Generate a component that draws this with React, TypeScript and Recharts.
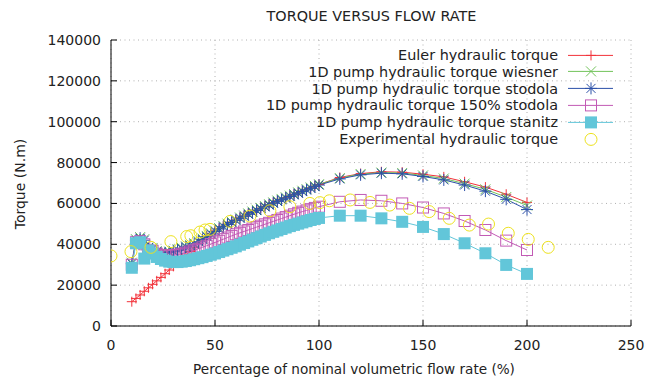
import React from 'react';
import { LineChart, Line, XAxis, YAxis, CartesianGrid, Legend } from 'recharts';

// ---------- data ----------
const flowRate = [
  10, 12, 14, 16, 18, 20, 22, 24, 26, 28, 30, 32, 34, 36, 38, 40, 42, 44, 46, 48,
  50, 52, 54, 56, 58, 60, 62, 64, 66, 68, 70, 72, 74, 76, 78, 80, 82, 84, 86, 88,
  90, 92, 94, 96, 98, 100, 110, 120, 130, 140, 150, 160, 170, 180, 190, 200,
];

const eulerTorque = [
  11900, 13500, 15200, 17000, 18700, 20400, 22100, 23800, 25600, 27400, 29200, 31000, 32800, 34600, 36500, 38400, 40400, 42300, 44000, 45300,
  46600, 47800, 48900, 50000, 51000, 52000, 53000, 54000, 55000, 55900, 56800, 57700, 58600, 59500, 60400, 61300, 62100, 62900, 63700, 64500,
  65300, 66100, 66900, 67700, 68500, 69300, 72700, 74600, 75500, 75300, 74300, 73000, 70600, 68000, 64500, 60500,
];

const wiesnerTorque = [
  31000, 42500, 43500, 42500, 38500, 38200, 36600, 36200, 36200, 36400, 36900, 37600, 38300, 39000, 39700, 40500, 41600, 42800, 44100, 45400,
  46700, 47900, 49000, 50100, 51100, 52100, 53100, 54100, 55100, 56000, 56900, 57800, 58700, 59600, 60500, 61400, 62200, 63000, 63800, 64600,
  65400, 66200, 67000, 67800, 68600, 69400, 72400, 74400, 75100, 74900, 73700, 72200, 69700, 66900, 63100, 59000,
];

const stodolaTorque = [
  30500, 42000, 43000, 42000, 38000, 37700, 36200, 35800, 35800, 36000, 36500, 37200, 37900, 38600, 39300, 40100, 41200, 42400, 43700, 45000,
  46300, 47500, 48600, 49700, 50700, 51700, 52700, 53700, 54700, 55600, 56500, 57400, 58300, 59200, 60100, 61000, 61800, 62600, 63400, 64200,
  65000, 65800, 66600, 67400, 68200, 69000, 72000, 74000, 74800, 74500, 73200, 71500, 69000, 66000, 62000, 57000,
];

const stodola150Torque = [
  30000, 41000, 41500, 40000, 37000, 36800, 35400, 34800, 34500, 34500, 34700, 35000, 35400, 35900, 36500, 37100, 37800, 38500, 39300, 40100,
  40900, 41700, 42500, 43300, 44100, 44900, 45600, 46300, 47000, 47700, 48400, 49100, 49800, 50500, 51200, 51900, 52600, 53300, 54000, 54700,
  55400, 56000, 56600, 57200, 57800, 58400, 60800, 61700, 61300, 60000, 58000, 55100, 51400, 47000, 41800, 37200,
];

const stanitzTorque = [
  28500, 40500, 41000, 33000, 37000, 35500, 33800, 32800, 32000, 31500, 31300, 31300, 31500, 31800, 32200, 32700, 33200, 33700, 34300, 34900,
  35500, 36200, 36900, 37600, 38300, 39000, 39800, 40600, 41400, 42200, 43000, 43800, 44600, 45400, 46100, 46800, 47500, 48200, 48900, 49500,
  50100, 50700, 51300, 51900, 52400, 52900, 54000, 54000, 52700, 51000, 48500, 45000, 40500, 35600, 29900, 25500,
];

const expFlowRate = [
  0, 9.6, 19.2, 28.8, 36.4, 38.4, 42.8, 45.2, 47.6, 57.2, 66.8, 76.4, 86, 95.6,
  100.4, 105, 115, 124.5, 134, 143.5, 153, 162.6, 172.3, 181.5, 191, 200.6, 210.2,
];
const expTorque = [
  34300, 36400, 38500, 41300, 43800, 44200, 46000, 47000, 47300, 51200, 53800, 56400, 58400, 60000,
  60400, 61300, 61700, 60500, 59200, 57600, 56000, 52700, 49400, 49900, 45400, 42400, 38500,
];

const xTicks = [0, 50, 100, 150, 200, 250];
const yTicks = [0, 20000, 40000, 60000, 80000, 100000, 120000, 140000];

const seriesNames = [
  'Euler hydraulic torque',
  '1D pump hydraulic torque wiesner',
  '1D pump hydraulic torque stodola',
  '1D pump hydraulic torque 150% stodola',
  '1D pump hydraulic torque stanitz',
  'Experimental hydraulic torque',
];

// ---------- styling ----------
const FONT = '"DejaVu Sans", "Liberation Sans", sans-serif';
const TEXT = '#222';

type Kind = 'plus' | 'cross' | 'star' | 'square' | 'filledSquare' | 'circle';

interface SeriesCfg {
  name: string;
  color: string;
  kind: Kind;
  line: boolean;
  xs: number[];
  ys: number[];
}

const SERIES: SeriesCfg[] = [
  { name: seriesNames[0], color: '#f2323a', kind: 'plus', line: true, xs: flowRate, ys: eulerTorque },
  { name: seriesNames[1], color: '#72c35a', kind: 'cross', line: true, xs: flowRate, ys: wiesnerTorque },
  { name: seriesNames[2], color: '#2b50a8', kind: 'star', line: true, xs: flowRate, ys: stodolaTorque },
  { name: seriesNames[3], color: '#c25ab5', kind: 'square', line: true, xs: flowRate, ys: stodola150Torque },
  { name: seriesNames[4], color: '#62c6d9', kind: 'filledSquare', line: true, xs: flowRate, ys: stanitzTorque },
  { name: seriesNames[5], color: '#ede21f', kind: 'circle', line: false, xs: expFlowRate, ys: expTorque },
];

function Marker({ kind, cx, cy, color }: { kind: Kind; cx: number; cy: number; color: string }) {
  const sw = 1;
  switch (kind) {
    case 'plus':
      return (
        <g>
          <line x1={cx - 5} y1={cy} x2={cx + 5} y2={cy} stroke={color} strokeWidth={sw} />
          <line x1={cx} y1={cy - 5} x2={cx} y2={cy + 5} stroke={color} strokeWidth={sw} />
        </g>
      );
    case 'cross':
      return (
        <g>
          <line x1={cx - 5} y1={cy - 5} x2={cx + 5} y2={cy + 5} stroke={color} strokeWidth={sw} />
          <line x1={cx - 5} y1={cy + 5} x2={cx + 5} y2={cy - 5} stroke={color} strokeWidth={sw} />
        </g>
      );
    case 'star':
      return (
        <g>
          <line x1={cx - 6} y1={cy} x2={cx + 6} y2={cy} stroke={color} strokeWidth={sw} />
          <line x1={cx} y1={cy - 6} x2={cx} y2={cy + 6} stroke={color} strokeWidth={sw} />
          <line x1={cx - 4.5} y1={cy - 4.5} x2={cx + 4.5} y2={cy + 4.5} stroke={color} strokeWidth={sw} />
          <line x1={cx - 4.5} y1={cy + 4.5} x2={cx + 4.5} y2={cy - 4.5} stroke={color} strokeWidth={sw} />
        </g>
      );
    case 'square':
      return <rect x={cx - 5.5} y={cy - 5.5} width={11} height={11} fill="none" stroke={color} strokeWidth={sw} />;
    case 'filledSquare':
      return <rect x={cx - 6} y={cy - 6} width={12} height={12} fill={color} stroke="none" />;
    case 'circle':
    default:
      return <circle cx={cx} cy={cy} r={6} fill="none" stroke={color} strokeWidth={sw} />;
  }
}

const makeDot = (cfg: SeriesCfg) => (props: any) => {
  const { cx, cy, index } = props;
  if (cx == null || cy == null || isNaN(cx) || isNaN(cy)) return <g key={`e-${index}`} />;
  return (
    <g key={`${cfg.kind}-${index}`}>
      <Marker kind={cfg.kind} cx={cx} cy={cy} color={cfg.color} />
    </g>
  );
};

const LegendContent = (props: any) => {
  const payload = props.payload || [];
  const present = new Set(payload.map((p: any) => p.value));
  return (
    <div style={{ fontFamily: FONT, fontSize: 14.4, color: TEXT }}>
      {SERIES.filter((s) => present.has(s.name)).map((cfg) => (
        <div
          key={cfg.name}
          style={{ display: 'flex', justifyContent: 'flex-end', alignItems: 'center', height: 16.8, whiteSpace: 'nowrap' }}
        >
          <span>{cfg.name}</span>
          <svg width={55} height={16.8} style={{ display: 'block' }}>
            {cfg.line && <line x1={10} y1={8.4} x2={55} y2={8.4} stroke={cfg.color} strokeWidth={1} />}
            <Marker kind={cfg.kind} cx={33} cy={8.4} color={cfg.color} />
          </svg>
        </div>
      ))}
    </div>
  );
};

const emptyTick = () => <g />;

export default function App() {
  return (
    <div style={{ position: 'absolute', left: 0, top: 0, width: 665, height: 380, background: '#fff', overflow: 'hidden' }}>
      <div
        style={{
          position: 'absolute', left: 0, top: 8, width: 743, textAlign: 'center',
          fontFamily: FONT, fontSize: 14.4, lineHeight: '16px', color: TEXT,
        }}
      >
        TORQUE VERSUS FLOW RATE
      </div>
      <LineChart width={665} height={380} margin={{ top: 40, right: 34, bottom: 0, left: 0 }}>
        <CartesianGrid stroke="#b0b0b0" strokeDasharray="1 3.5" />
        <XAxis
          type="number"
          dataKey="x"
          domain={[0, 250]}
          ticks={xTicks}
          allowDataOverflow
          height={54}
          tickSize={-6}
          tickMargin={20}
          axisLine={{ stroke: '#000' }}
          tickLine={{ stroke: '#000' }}
          tick={{ fill: TEXT, fontSize: 14, fontFamily: FONT }}
        />
        <XAxis
          xAxisId="top"
          orientation="top"
          type="number"
          dataKey="x"
          domain={[0, 250]}
          ticks={xTicks}
          allowDataOverflow
          height={0}
          tickSize={-6}
          axisLine={{ stroke: '#000' }}
          tickLine={{ stroke: '#000' }}
          tick={emptyTick}
        />
        <YAxis
          type="number"
          domain={[0, 140000]}
          ticks={yTicks}
          allowDataOverflow
          width={111}
          tickSize={-6}
          tickMargin={16}
          axisLine={{ stroke: '#000' }}
          tickLine={{ stroke: '#000' }}
          tick={{ fill: TEXT, fontSize: 14, fontFamily: FONT }}
        />
        <YAxis
          yAxisId="right"
          orientation="right"
          type="number"
          domain={[0, 140000]}
          ticks={yTicks}
          allowDataOverflow
          width={0}
          tickSize={-6}
          axisLine={{ stroke: '#000' }}
          tickLine={{ stroke: '#000' }}
          tick={emptyTick}
        />
        <Legend
          layout="vertical"
          align="center"
          verticalAlign="middle"
          content={LegendContent}
          wrapperStyle={{ left: 0, top: 46.6, width: 613, height: 'auto' }}
        />
        {SERIES.map((cfg) => (
          <Line
            key={cfg.name}
            name={cfg.name}
            data={cfg.xs.map((x, i) => ({ x, y: cfg.ys[i] }))}
            dataKey="y"
            type="linear"
            stroke={cfg.line ? cfg.color : 'none'}
            strokeWidth={1}
            dot={makeDot(cfg)}
            activeDot={false}
            isAnimationActive={false}
          />
        ))}
      </LineChart>
      <div
        style={{
          position: 'absolute', left: 0, top: 361, width: 708, textAlign: 'center',
          fontFamily: FONT, fontSize: 13.6, lineHeight: '16px', color: TEXT, whiteSpace: 'nowrap',
        }}
      >
        Percentage of nominal volumetric flow rate (%)
      </div>
      <div
        style={{
          position: 'absolute', left: 20, top: 183.5, transform: 'translate(-50%, -50%) rotate(-90deg)',
          fontFamily: FONT, fontSize: 14, lineHeight: '16px', color: TEXT, whiteSpace: 'nowrap',
        }}
      >
        Torque (N.m)
      </div>
    </div>
  );
}
